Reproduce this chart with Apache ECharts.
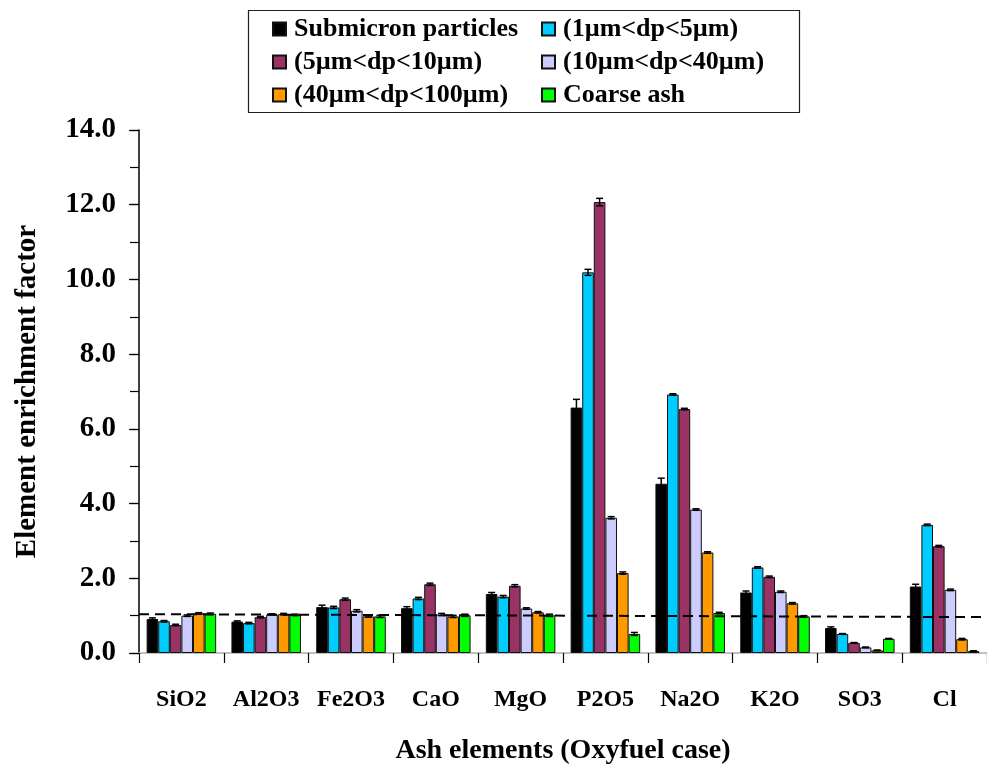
<!DOCTYPE html>
<html>
<head>
<meta charset="utf-8">
<script src="https://cdn.jsdelivr.net/npm/echarts@6/dist/echarts.min.js"></script>
<style>
  html, body { margin: 0; padding: 0; background: #fff; }
  #main { width: 987px; height: 770px; }
</style>
</head>
<body>
<div id="main"></div>
<script>
const categories = ['SiO2', 'Al2O3', 'Fe2O3', 'CaO', 'MgO', 'P2O5', 'Na2O', 'K2O', 'SO3', 'Cl'];
const seriesNames = ['Submicron particles', '(1µm<dp<5µm)', '(5µm<dp<10µm)', '(10µm<dp<40µm)', '(40µm<dp<100µm)', 'Coarse ash'];
const colors = ['#000000', '#00ccff', '#993366', '#ccccff', '#ff9900', '#00ff00'];

// enrichment factor, one array per size fraction
const submicron = [0.91, 0.84, 1.23, 1.20, 1.58, 6.57, 4.53, 1.62, 0.67, 1.78];
const d1to5 = [0.85, 0.80, 1.22, 1.46, 1.51, 10.19, 6.92, 2.29, 0.51, 3.43];
const d5to10 = [0.75, 0.96, 1.44, 1.84, 1.80, 12.07, 6.53, 2.04, 0.27, 2.86];
const d10to40 = [1.00, 1.03, 1.13, 1.03, 1.19, 3.62, 3.84, 1.64, 0.15, 1.69];
const d40to100 = [1.06, 1.04, 0.98, 0.98, 1.09, 2.14, 2.69, 1.33, 0.07, 0.37];
const coarse = [1.05, 1.02, 0.98, 1.01, 1.01, 0.51, 1.07, 0.98, 0.38, 0.05];

// error bar half-lengths
const errSubmicron = [0.03, 0.02, 0.05, 0.04, 0.04, 0.22, 0.15, 0.04, 0.03, 0.06];
const errD1to5 = [0.02, 0.02, 0.03, 0.03, 0.03, 0.08, 0.02, 0.02, 0.01, 0.02];
const errD5to10 = [0.02, 0.02, 0.03, 0.03, 0.03, 0.10, 0.02, 0.02, 0.01, 0.02];
const errD10to40 = [0.02, 0.02, 0.03, 0.03, 0.02, 0.03, 0.02, 0.02, 0.01, 0.02];
const errD40to100 = [0.02, 0.02, 0.02, 0.03, 0.02, 0.03, 0.02, 0.02, 0.01, 0.02];
const errCoarse = [0.02, 0.02, 0.03, 0.03, 0.03, 0.04, 0.02, 0.02, 0.01, 0.01];

// reference line (EF = 1), ends
const refLineX = [0, 10];
const refLineY = [1.04, 0.96];

const values = [submicron, d1to5, d5to10, d10to40, d40to100, coarse];
const errors = [errSubmicron, errD1to5, errD5to10, errD10to40, errD40to100, errCoarse];

const font = "'Liberation Serif', 'Times New Roman', serif";
const catGap = 0.18;

const errorRender = (s) => (params, api) => {
  const i = api.value(0), v = api.value(1), e = api.value(2);
  const band = api.size([1, 0])[0];
  const barW = band * (1 - catGap) / 6;
  const x = api.coord([i, 0])[0] - band * (1 - catGap) / 2 + barW * (s + 0.5);
  const top = api.coord([i, v + e])[1];
  const bot = api.coord([i, v - e])[1];
  const half = 3.5;
  const st = { stroke: '#000', lineWidth: 1.5 };
  return {
    type: 'group',
    children: [
      { type: 'line', shape: { x1: x, y1: top, x2: x, y2: bot }, style: st },
      { type: 'line', shape: { x1: x - half, y1: top, x2: x + half, y2: top }, style: st },
      { type: 'line', shape: { x1: x - half, y1: bot, x2: x + half, y2: bot }, style: st }
    ]
  };
};

const barSeries = seriesNames.map((name, s) => ({
  name: name,
  type: 'bar',
  data: values[s],
  barGap: '0%',
  barCategoryGap: (catGap * 100) + '%',
  itemStyle: { color: colors[s], borderColor: '#111', borderWidth: 1 },
  emphasis: { disabled: true }
}));

const errSeries = seriesNames.map((name, s) => ({
  name: name + ' err',
  type: 'custom',
  renderItem: errorRender(s),
  data: values[s].map((v, i) => [i, v, errors[s][i]]),
  z: 10,
  silent: true
}));

const legendText = { fontFamily: font, fontWeight: 'bold', fontSize: 26, color: '#000', padding: [0, 0, 0, 3] };

const option = {
  backgroundColor: '#fff',
  animation: false,
  textStyle: { fontFamily: font },
  graphic: [{
    type: 'rect',
    left: 246, top: 8,
    shape: { width: 551, height: 102 },
    style: { fill: 'none', stroke: '#222', lineWidth: 1.2 },
    z: 100
  }],
  legend: [
    {
      orient: 'vertical', left: 272, top: 16, padding: 0,
      itemWidth: 13, itemHeight: 13, itemGap: 7,
      icon: 'rect',
      data: [seriesNames[0], seriesNames[2], seriesNames[4]],
      textStyle: legendText
    },
    {
      orient: 'vertical', left: 541, top: 16, padding: 0,
      itemWidth: 13, itemHeight: 13, itemGap: 7,
      icon: 'rect',
      data: [seriesNames[1], seriesNames[3], seriesNames[5]],
      textStyle: legendText
    }
  ],
  grid: { left: 139, right: -9, top: 130, bottom: 114, containLabel: false },
  xAxis: [
    {
      type: 'category',
      data: categories,
      name: 'Ash elements (Oxyfuel case)',
      nameLocation: 'middle',
      nameGap: 84,
      nameTextStyle: { fontFamily: font, fontWeight: 'bold', fontSize: 28, color: '#000' },
      axisLine: { lineStyle: { color: '#000', width: 1.5 } },
      axisTick: { show: true, interval: 0, alignWithLabel: false, length: 10, lineStyle: { color: '#000', width: 1.2 } },
      axisLabel: { interval: 0, margin: 35, fontFamily: font, fontWeight: 'bold', fontSize: 24, color: '#000' },
      splitLine: { show: false }
    },
    {
      type: 'value',
      position: 'top',
      min: 0, max: 10,
      axisLine: { show: true, lineStyle: { color: '#c0c0c0', width: 2 } },
      axisTick: { show: false },
      axisLabel: { show: false },
      splitLine: { show: false }
    }
  ],
  yAxis: [
    {
      type: 'value',
      min: 0, max: 14, interval: 2,
      name: 'Element enrichment factor',
      nameLocation: 'middle',
      nameGap: 97,
      nameTextStyle: { fontFamily: font, fontWeight: 'bold', fontSize: 29, color: '#000' },
      axisLine: { show: true, lineStyle: { color: '#000', width: 1.5 } },
      axisTick: { show: true, length: 10, lineStyle: { color: '#000', width: 1.2 } },
      axisLabel: {
        margin: 23, fontFamily: font, fontWeight: 'bold', fontSize: 29, color: '#000',
        formatter: v => v.toFixed(1)
      },
      splitLine: { show: false }
    },
    {
      type: 'value',
      position: 'right',
      offset: -857,
      min: 0, max: 14, interval: 1,
      axisLine: { show: false },
      axisTick: { show: true, inside: false, length: 9, lineStyle: { color: '#000', width: 1.2 } },
      axisLabel: { show: false },
      splitLine: { show: false }
    }
  ],
  series: [
    ...barSeries,
    ...errSeries,
    {
      name: 'EF=1',
      type: 'line',
      xAxisIndex: 1,
      yAxisIndex: 0,
      data: refLineX.map((x, i) => [x, refLineY[i]]),
      symbol: 'none',
      silent: true,
      z: 20,
      lineStyle: { color: '#000', width: 2, type: [10, 6] }
    }
  ]
};

const myChart = echarts.init(document.getElementById('main'));
myChart.setOption(option);
</script>
</body>
</html>
